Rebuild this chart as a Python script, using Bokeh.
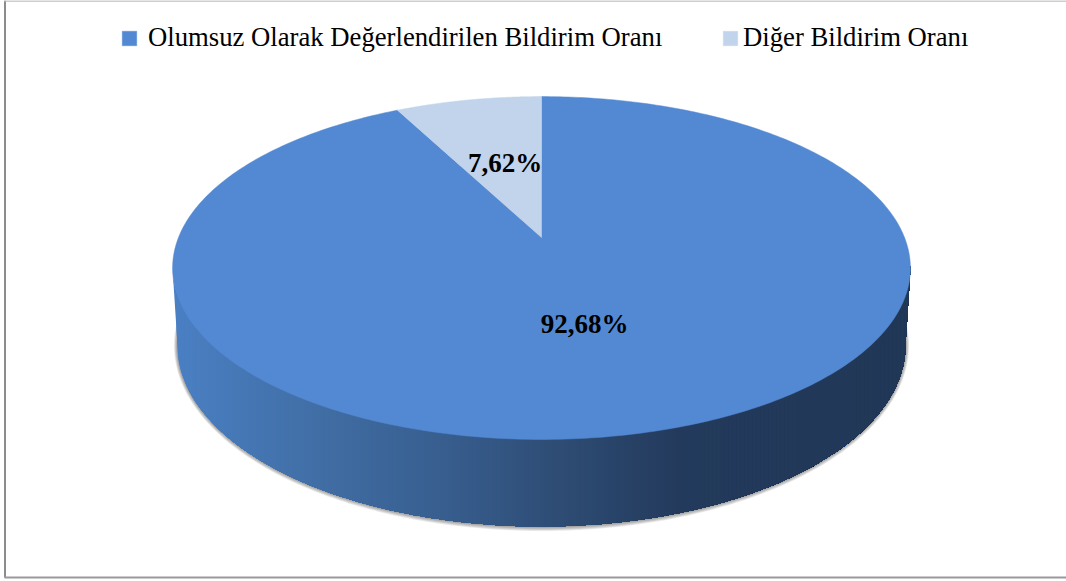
from bokeh.core.properties import value
from bokeh.embed import file_html
from bokeh.models import Legend, LegendItem, Range1d
from bokeh.plotting import figure
from bokeh.resources import INLINE
import numpy as np

# --- chart values ---
categories = ["Olumsuz Olarak Değerlendirilen Bildirim Oranı", "Diğer Bildirim Oranı"]
values = [92.68, 7.62]

# --- styling ---
TOP_BLUE = "#5389D3"
LIGHT = "#C2D4EB"
SERIF = "Liberation Serif"
W, H = 1066, 581
CX, APEX_Y = 541.0, 237.0
A, B, K = 363.0, 166.0, 0.178      # perspective of the pie's top face
SIDE_STOPS = [(172, "#4A80C4"), (300, "#4270A8"), (450, "#375D8D"), (560, "#2E4C74"),
              (680, "#233A5C"), (910, "#213756")]


def face(theta):
    """Project a clockwise-from-north angle (radians) onto the tilted top face."""
    u, v = np.sin(theta), np.cos(theta)
    d = 1 + K * v
    return CX + A * u / d, APEX_Y - B * v / d


def wedge(start, end):
    t = np.linspace(start, end, 400)
    x, y = face(t)
    return np.r_[CX, x], np.r_[APEX_Y, y]


def hex_rgb(c):
    return np.array([int(c[i:i + 2], 16) for i in (1, 3, 5)], dtype=float)


def side_colour(x):
    xs = [s[0] for s in SIDE_STOPS]
    rgb = np.array([hex_rgb(s[1]) for s in SIDE_STOPS])
    col = [np.interp(x, xs, rgb[:, i]) for i in range(3)]
    return "#%02x%02x%02x" % tuple(int(round(c)) for c in col)


def top_lower(x):
    e = np.clip((x - 541.0) / 369.0, -1, 1)
    return 267.5 + 171.5 * np.sqrt(1 - e ** 2)


def base_lower(x):
    e = np.clip((x - 541.0) / 364.0, -1, 1)
    y = 345.0 + 181.0 * np.sqrt(1 - e ** 2)
    over = np.abs(x - 541.0) > 364.0
    frac = (369.0 - np.abs(x - 541.0)) / 5.0
    return float(np.where(over, 267.5 + (345.0 - 267.5) * frac, y))


p = figure(width=W, height=H, x_range=Range1d(0, W), y_range=Range1d(H, 0),
           toolbar_location=None, output_backend="svg", min_border=0,
           x_axis_location=None, y_axis_location=None, outline_line_color=None,
           background_fill_color="white", border_fill_color="white")
p.grid.visible = False
p.styles = {"position": "absolute", "left": "0px", "top": "0px"}

# chart frame
p.line([4.5, 4.5], [0, 577], line_color="#8C8C8C", line_width=2)
p.line([4, W], [0.5, 0.5], line_color="#BDBDBD", line_width=1.5)
p.line([4, W], [577, 577], line_color="#9A9A9A", line_width=2)

# soft shadow under the side wall
tt = np.linspace(0, 2 * np.pi, 400)
for d in [5, 4, 3, 2, 1]:
    p.patch(541 + (364 + 0.7 * d) * np.cos(tt), 345 + (181 + 0.9 * d) * np.sin(tt),
            fill_color="black", fill_alpha=0.085, line_color=None)

# side wall: colour bands painted left to right, each overlapping its neighbour,
# each reaching the wall's far end so no seams show and the outer edge stays smooth
edges = np.r_[np.arange(172.0, 910.0, 4.0), 910.0]
fine = np.r_[np.arange(172.0, 182.0, 0.5), np.arange(182.0, 900.0, 4.0), np.arange(900.0, 910.5, 0.5)]
xs_side, ys_side, cs_side = [], [], []
for a, b in zip(edges[:-1], edges[1:]):
    gx = np.r_[a, fine[fine > a]]
    upper = [top_lower(x) - 2 for x in gx]
    lower = [base_lower(x) for x in gx]
    xs_side.append(np.r_[gx, gx[::-1]])
    ys_side.append(np.r_[upper, lower[::-1]])
    cs_side.append(side_colour((a + b) / 2))
p.patches(xs_side, ys_side, fill_color=cs_side, line_color=None)

# top face, slices from the values
share = [v / sum(values) * 2 * np.pi for v in values]
xm, ym = wedge(0, share[0])
xl, yl = wedge(share[0], share[0] + share[1])
r_main = p.patch(xm, ym, fill_color=TOP_BLUE, line_color=TOP_BLUE, line_width=0.5)
r_light = p.patch(xl, yl, fill_color=LIGHT, line_color=LIGHT, line_width=0.5)

# value labels
labels = [f"{v:.2f}%".replace(".", ",") for v in values]
p.text([584, 504.5], [323, 162.5], text=labels, text_font=value(SERIF), text_font_style="bold",
       text_font_size="27px", text_color="black", text_align="center", text_baseline="middle")

for label, renderer, loc, standoff in [(categories[0], r_main, (120, 528), 10),
                                       (categories[1], r_light, (721, 528), 4)]:
    legend = Legend(items=[LegendItem(label=label, renderers=[renderer])],
                    orientation="horizontal", location=loc, margin=0, padding=0,
                    glyph_width=18, glyph_height=18, label_standoff=standoff,
                    label_text_font=SERIF, label_text_font_size="26.7px", label_text_color="black",
                    background_fill_alpha=0, border_line_color=None)
    p.add_layout(legend, "center")

open("out.html", "w").write(file_html(p, INLINE))
